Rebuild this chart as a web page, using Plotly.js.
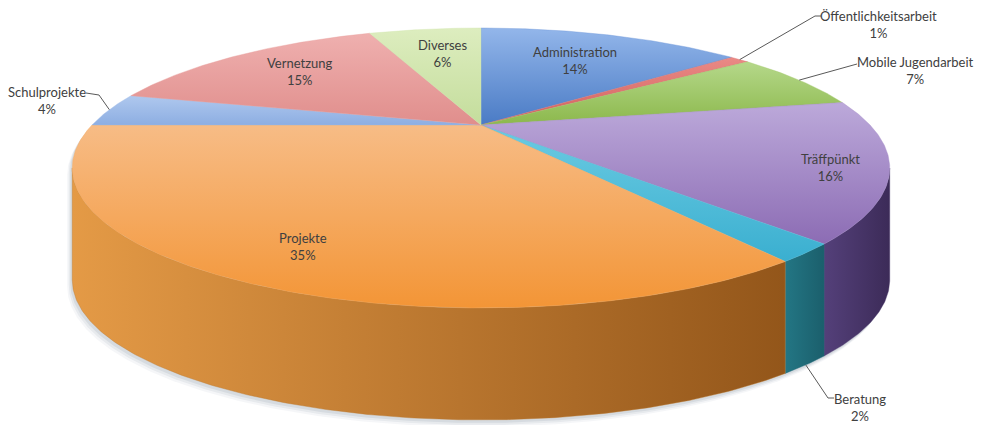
<!DOCTYPE html>
<html><head><meta charset="utf-8">
<script src="https://cdn.plot.ly/plotly-3.0.1.min.js"></script>
<style>html,body{margin:0;padding:0;background:#fff}#chart{width:986px;height:425px}</style>
</head><body><div id="chart"></div>
<script>
// ---- data ----
const labels = ['Administration','Öffentlichkeitsarbeit','Mobile Jugendarbeit','Träffpünkt','Beratung','Projekte','Schulprojekte','Vernetzung','Diverses'];
const values = [14, 1, 7, 16, 2, 35, 4, 15, 6];

// ---- styles ----
const topColors = [
  ['#93B6EA','#4A7BC5'], ['#EA8A86','#D0605C'], ['#B5D88A','#8CB84C'],
  ['#BCA9DA','#8C6CB4'], ['#6CCBE2','#3AAFD0'], ['#F7BC86','#F39536'],
  ['#AFC8EE','#8DAEE2'], ['#EFB0AF','#E08E8C'], ['#DDEDBF','#C4DD9C']
];
const topMid = ['#6E98D8','#DD7571','#A1C86B','#A48AC7','#53BDD9','#F5A95E','#9EBBE8','#E89F9D','#D1E5AE'];
const sideColors = [
  ['#3A6298','#2E4F7C'], ['#A0403D','#803230'], ['#6F8F3C','#5A7530'],
  ['#54407A','#3C2B58'], ['#237684','#1B5F6C'], ['#E49A46','#93561A'],
  ['#6E8DBE','#5A77A6'], ['#B06C6B','#955857'], ['#98AE72','#80965E']
];
const sideMid = ['#345889','#903936','#658236','#483569','#1F6A78','#BC782F','#6482B2','#A26261','#8CA268'];
// label placement (text positions, screen px)
const labelPos = {
  'Administration': {x:575, y:60},
  'Diverses': {x:442, y:53},
  'Vernetzung': {x:300, y:71},
  'Träffpünkt': {x:830, y:167},
  'Projekte': {x:303, y:246},
  'Öffentlichkeitsarbeit': {x:878, y:24, elbow:[815,16], end:[821,16]},
  'Mobile Jugendarbeit': {x:915, y:70, elbow:[851,65], end:[857,64]},
  'Beratung': {x:860, y:407, elbow:[828,398], end:[834,398]},
  'Schulprojekte': {x:47, y:100, elbow:[99,95], end:[86,93]}
};

// ---- geometry (perspective ellipse) ----
const G = {cx:481, k:389, a:125, b:-88.4, c:0.307, depth:112};
function proj(r, deg){
  const th = deg*Math.PI/180, s = Math.sin(th), t = Math.cos(th);
  const den = 1 + G.c*r*t;
  return [G.cx + G.k*r*s/den, (G.a + G.b*r*t)/den];
}
function arc(d1, d2, dy){
  const pts = [], n = Math.max(2, Math.ceil(Math.abs(d2-d1)/0.5));
  for (let i=0;i<=n;i++){ const p = proj(1, d1+(d2-d1)*i/n); pts.push([p[0], p[1]+(dy||0)]); }
  return pts;
}
const thR = Math.acos(-G.c)*180/Math.PI, thL = 360 - thR;

const total = values.reduce((a,b)=>a+b,0);
const starts = []; let acc = 0;
values.forEach(v=>{ starts.push(acc/total*360); acc += v; });

const traces = [];
function poly(pts, fillcolor, grad, lineColor, lw){
  const xs = pts.map(p=>p[0]), ys = pts.map(p=>p[1]);
  xs.push(xs[0]); ys.push(ys[0]);
  const tr = {type:'scatter', mode:'lines', x:xs, y:ys, fill:'toself', hoverinfo:'skip',
    line:{width:lineColor?(lw||0.5):0, color:lineColor||'rgba(0,0,0,0)'}, showlegend:false};
  if (grad) tr.fillgradient = grad; else tr.fillcolor = fillcolor;
  traces.push(tr);
}

// shadow
const outline = arc(thL, thR+360, 0).concat(arc(thR, thL, G.depth));
[[-5,7,0.07],[-3.5,5,0.10],[-2,3,0.14]].forEach(([dx,dy,op])=>{
  poly(outline.map(p=>[p[0]+dx, p[1]+dy]), 'rgba(110,125,150,'+op+')');
});

// sides
values.forEach((v,i)=>{
  const a1 = starts[i], a2 = starts[i] + v/total*360;
  const s1 = Math.max(a1, thR), s2 = Math.min(a2, thL);
  if (s2 <= s1) return;
  const top = arc(s1, s2, 0), bot = arc(s2, s1, G.depth);
  const pts = top.concat(bot);
  const xs = pts.map(p=>p[0]);
  poly(pts, null, {type:'horizontal', start:Math.min(...xs), stop:Math.max(...xs),
    colorscale:[[0,sideColors[i][0]],[1,sideColors[i][1]]]}, sideMid[i], 0.4);
});

// top faces
values.forEach((v,i)=>{
  const a1 = starts[i], a2 = starts[i] + v/total*360;
  const pts = [proj(0,0)].concat(arc(a1, a2, 0));
  const ys = pts.map(p=>p[1]);
  poly(pts, null, {type:'vertical', start:Math.min(...ys), stop:Math.max(...ys),
    colorscale:[[0,topColors[i][0]],[1,topColors[i][1]]]}, topMid[i], 0.4);
});

// labels + leader lines
const annotations = [];
values.forEach((v,i)=>{
  const name = labels[i], lp = labelPos[name];
  const pct = Math.round(v/total*100) + '%';
  annotations.push({x:lp.x, y:lp.y, xref:'x', yref:'y', showarrow:false,
    text:name + '<br>' + pct, align:'center',
    font:{family:'Lato, "Open Sans", sans-serif', size:13, color:'#404040'}});
  if (lp.elbow){
    const mid = starts[i] + v/total*180;
    let p = proj(1, mid);
    if (mid > thR && mid < thL) p = [p[0], p[1] + G.depth];
    traces.push({type:'scatter', mode:'lines', hoverinfo:'skip', showlegend:false,
      x:[p[0], lp.elbow[0], lp.end[0]], y:[p[1], lp.elbow[1], lp.end[1]],
      line:{color:'#595959', width:1}});
  }
});

const layout = {
  width:986, height:425, margin:{l:0,r:0,t:0,b:0},
  paper_bgcolor:'#ffffff', plot_bgcolor:'#ffffff', showlegend:false,
  xaxis:{range:[0,986], visible:false, fixedrange:true},
  yaxis:{range:[425,0], visible:false, fixedrange:true},
  annotations:annotations
};
Plotly.newPlot('chart', traces, layout, {staticPlot:true, displayModeBar:false});
</script></body></html>
